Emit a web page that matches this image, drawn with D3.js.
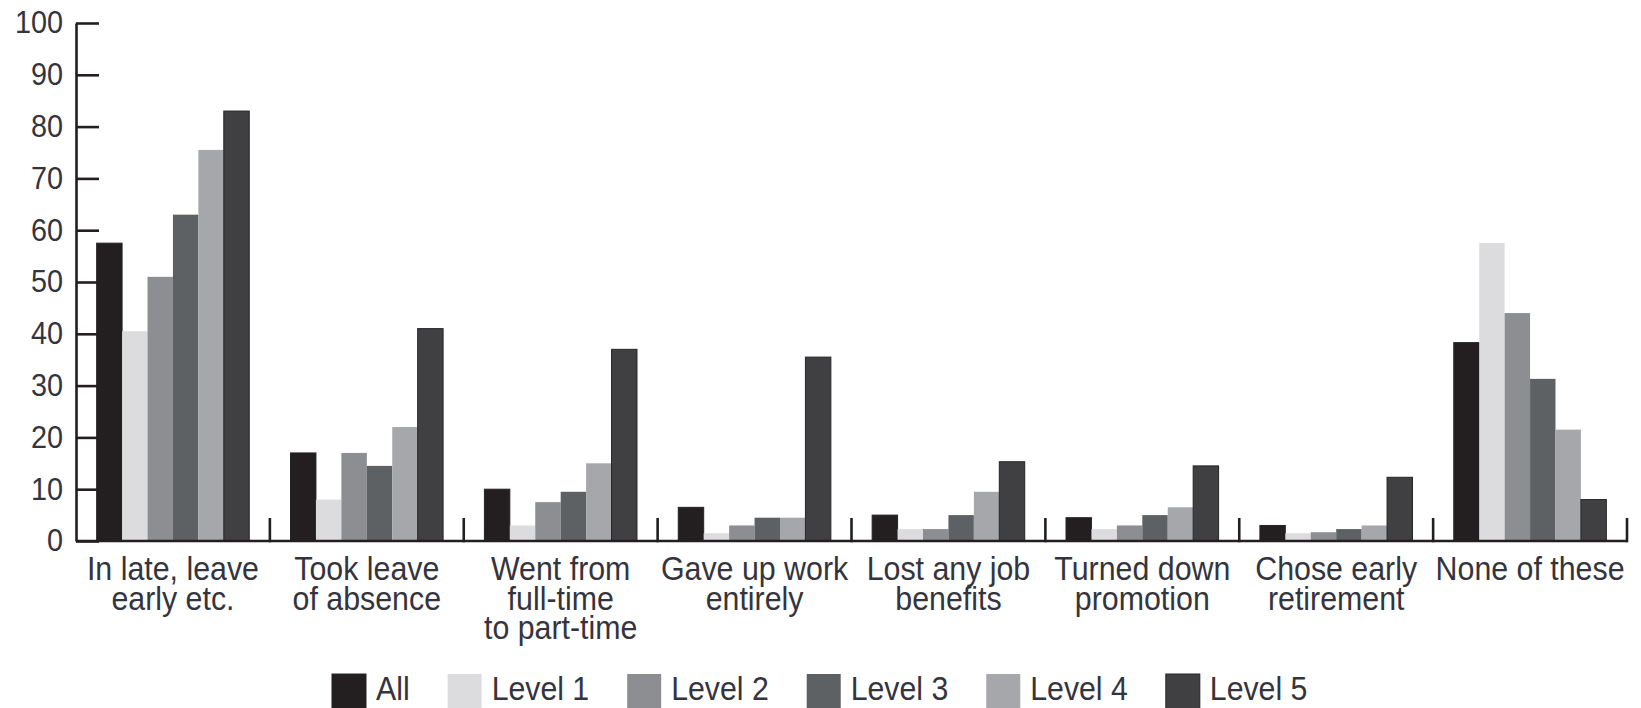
<!DOCTYPE html>
<html>
<head>
<meta charset="utf-8">
<script src="https://cdn.jsdelivr.net/npm/d3@7"></script>
<style>
  html, body { margin: 0; padding: 0; background: #ffffff; }
  svg { display: block; }
  text { font-family: "Liberation Sans", Arial, sans-serif; fill: #34343e; }
</style>
</head>
<body>
<svg id="chart" width="1641" height="708"></svg>
<script>
// ---- Data ----
const categories = [
  "In late, leave early etc.",
  "Took leave of absence",
  "Went from full-time to part-time",
  "Gave up work entirely",
  "Lost any job benefits",
  "Turned down promotion",
  "Chose early retirement",
  "None of these"
];
const categoryLines = [
  ["In late, leave", "early etc."],
  ["Took leave", "of absence"],
  ["Went from", "full-time", "to part-time"],
  ["Gave up work", "entirely"],
  ["Lost any job", "benefits"],
  ["Turned down", "promotion"],
  ["Chose early", "retirement"],
  ["None of these"]
];
const seriesNames = ["All", "Level 1", "Level 2", "Level 3", "Level 4", "Level 5"];
const allValues    = [57.5, 17,   10,  6.5, 5,   4.5, 3,   38.3];
const level1Values = [40.5, 8,    3,   1.5, 2.3, 2.3, 1.5, 57.5];
const level2Values = [51,   17,   7.5, 3,   2.3, 3,   1.7, 44];
const level3Values = [63,   14.5, 9.5, 4.5, 5,   5,   2.3, 31.3];
const level4Values = [75.5, 22,   15,  4.5, 9.5, 6.5, 3,   21.5];
const level5Values = [83,   41,   37,  35.5,15.3,14.5,12.3, 8];
const seriesValues = [allValues, level1Values, level2Values, level3Values, level4Values, level5Values];
const seriesColors = ["#231f20", "#dcdcdf", "#8d8e91", "#5e6164", "#a6a7aa", "#404042"];
const yTicks = [0, 10, 20, 30, 40, 50, 60, 70, 80, 90, 100];

// ---- Layout ----
const svg = d3.select("#chart");
const axisColor = "#231f20";
const x0 = 76, x1 = 1627, yBase = 541, yTop = 23;

const x = d3.scaleBand().domain(categories).range([x0, x1])
  .paddingInner(0.213).paddingOuter(0.1065);
const xs = d3.scaleBand().domain(seriesNames).range([0, x.bandwidth()]);
const y = d3.scaleLinear().domain([0, 100]).range([yBase, yTop]);
const color = d3.scaleOrdinal().domain(seriesNames).range(seriesColors);

// Bars
const groups = svg.append("g").selectAll("g")
  .data(categories)
  .join("g")
  .attr("transform", d => `translate(${x(d)},0)`);

groups.selectAll("rect")
  .data((c, ci) => seriesNames.map((s, si) => ({ s, v: seriesValues[si][ci] })))
  .join("rect")
  .attr("x", d => xs(d.s))
  .attr("width", xs.bandwidth())
  .attr("y", d => y(d.v))
  .attr("height", d => y(0) - y(d.v))
  .attr("fill", d => color(d.s))
  .attr("stroke", d => (d.s === "All" || d.s === "Level 5") ? "#262426" : "none")
  .attr("stroke-width", 1);

// Baseline with group separator ticks
const baseG = svg.append("g");
baseG.append("line")
  .attr("x1", x0).attr("x2", x1)
  .attr("y1", yBase).attr("y2", yBase)
  .attr("stroke", axisColor).attr("stroke-width", 2.6);
const sepIdx = d3.range(1, categories.length + 1);
baseG.selectAll("line.sep")
  .data(sepIdx)
  .join("line")
  .attr("class", "sep")
  .attr("x1", i => x0 + i * x.step())
  .attr("x2", i => x0 + i * x.step())
  .attr("y1", yBase - 23)
  .attr("y2", yBase + 1.3)
  .attr("stroke", axisColor).attr("stroke-width", 2.6);

// Y axis (ticks pointing inward)
const yAxis = d3.axisLeft(y).tickValues(yTicks).tickSizeInner(-23).tickSizeOuter(0).tickPadding(14);
const yG = svg.append("g").attr("transform", `translate(${x0},0)`).call(yAxis);
yG.select(".domain").attr("stroke", axisColor).attr("stroke-width", 2.6);
yG.selectAll(".tick line").attr("stroke", axisColor).attr("stroke-width", 2.6);
yG.selectAll(".tick text")
  .attr("font-size", 31)
  .attr("font-family", "Liberation Sans, Arial, sans-serif")
  .attr("fill", "#34343e")
  .attr("transform", "scale(0.93,1)");

// Category labels
const labelG = svg.append("g");
categories.forEach((c, ci) => {
  const cx = x(c) + x.bandwidth() / 2;
  const t = labelG.append("text")
    .attr("transform", `translate(${cx},580) scale(0.92,1)`)
    .attr("text-anchor", "middle")
    .attr("font-size", 33);
  t.selectAll("tspan")
    .data(categoryLines[ci])
    .join("tspan")
    .attr("x", 0)
    .attr("y", (d, i) => i * 29.5)
    .text(d => d);
});

// Legend (flow layout)
const legend = svg.append("g");
let lx = 332;
seriesNames.forEach((s, i) => {
  legend.append("rect")
    .attr("x", lx).attr("y", 674)
    .attr("width", 34).attr("height", 36)
    .attr("fill", color(s))
    .attr("stroke", (s === "All" || s === "Level 5") ? "#262426" : "none")
    .attr("stroke-width", 1);
  const tx = lx + 44;
  const t = legend.append("text")
    .attr("transform", `translate(${tx},700) scale(0.89,1)`)
    .attr("font-size", 34)
    .text(s);
  const w = t.node().getComputedTextLength() * 0.89;
  lx = tx + w + 38;
});
</script>
</body>
</html>
